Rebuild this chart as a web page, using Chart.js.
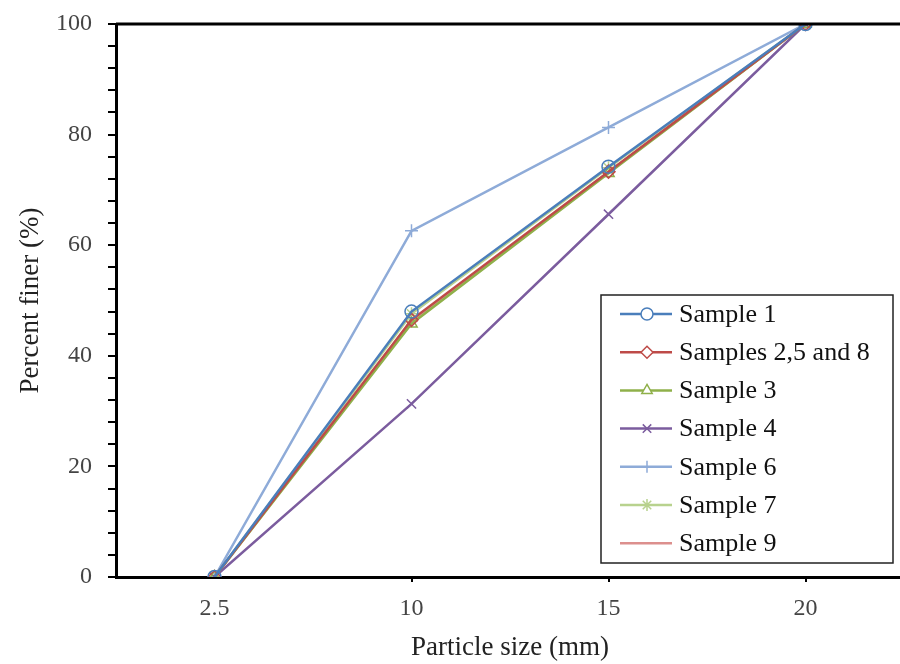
<!DOCTYPE html>
<html>
<head>
<meta charset="utf-8">
<script src="https://cdn.jsdelivr.net/npm/chart.js@4.4.1/dist/chart.umd.min.js"></script>
<style>
  html, body { margin: 0; padding: 0; background: #fff; overflow: hidden; }
  #wrap { width: 900px; height: 664px; overflow: hidden; }
</style>
</head>
<body>
<div id="wrap"><canvas id="sieve" width="912" height="664"></canvas></div>
<script>
// particle sizes (mm) and percent finer per sample
const sizes = ['2.5', '10', '15', '20'];
const sample1 = [0, 48, 74.2, 100];
const samples258 = [0, 46.5, 73.3, 100];
const sample3 = [0, 45.8, 73, 100];
const sample4 = [0, 31.3, 65.6, 100];
const sample6 = [0, 62.6, 81.3, 100];
const sample7 = [0, 47.6, 74, 100];
const sample9 = [0, 46.3, 73.2, 100];

const serif = "'Liberation Serif', 'Times New Roman', serif";

const series = [
  { label: 'Sample 1', data: sample1, color: '#4a7ebb', style: 'circle' },
  { label: 'Samples 2,5 and 8', data: samples258, color: '#be4b48', style: 'rectRot' },
  { label: 'Sample 3', data: sample3, color: '#8fb04a', style: 'triangle' },
  { label: 'Sample 4', data: sample4, color: '#7b5c9e', style: 'crossRot' },
  { label: 'Sample 6', data: sample6, color: '#8eabd8', style: 'cross' },
  { label: 'Sample 7', data: sample7, color: '#b8d28e', style: 'star' },
  { label: 'Sample 9', data: sample9, color: '#dc8f8d', style: 'dash' }
];

// draw top frame line + boxed legend
const framePlugin = {
  id: 'frame',
  afterDraw(chart) {
    const { ctx, chartArea } = chart;
    ctx.save();
    ctx.strokeStyle = '#000';
    ctx.lineWidth = 3;
    ctx.beginPath();
    ctx.moveTo(chartArea.left, chartArea.top);
    ctx.lineTo(chartArea.right, chartArea.top);
    ctx.stroke();

    // legend box
    const bx = 601, by = 295, bw = 292, bh = 268;
    ctx.fillStyle = '#fff';
    ctx.fillRect(bx, by, bw, bh);
    ctx.lineWidth = 1.5;
    ctx.strokeStyle = '#222';
    ctx.strokeRect(bx, by, bw, bh);

    ctx.font = '26px ' + serif;
    ctx.textBaseline = 'middle';
    chart.data.datasets.forEach((ds, i) => {
      const y = 314 + i * 38.2;
      ctx.strokeStyle = ds.borderColor;
      ctx.lineWidth = 2.5;
      ctx.beginPath();
      ctx.moveTo(620, y);
      ctx.lineTo(672, y);
      ctx.stroke();
      ctx.lineWidth = 1.5;
      ctx.fillStyle = '#fff';
      Chart.helpers.drawPoint(ctx, {
        pointStyle: ds.pointStyle, radius: 6, rotation: 0, borderWidth: 1.5
      }, 647, y);
      ctx.fillStyle = '#111';
      ctx.fillText(ds.label, 679, y + 1);
    });
    ctx.restore();
  }
};

new Chart(document.getElementById('sieve'), {
  type: 'line',
  data: {
    labels: sizes,
    datasets: series.map(s => ({
      label: s.label,
      data: s.data,
      borderColor: s.color,
      backgroundColor: 'rgba(0,0,0,0)',
      pointBorderColor: s.color,
      pointBackgroundColor: 'rgba(0,0,0,0)',
      pointStyle: s.style,
      pointRadius: 6.5,
      pointBorderWidth: 1.5,
      borderWidth: 2.5,
      tension: 0
    }))
  },
  options: {
    responsive: false,
    animation: false,
    layout: { padding: { top: 24, right: 4, left: 0, bottom: 0 } },
    plugins: {
      legend: { display: false },
      tooltip: { enabled: false }
    },
    scales: {
      x: {
        offset: true,
        afterFit(scale) { scale.height = 87; },
        border: { color: '#000', width: 3 },
        grid: {
          drawOnChartArea: false,
          tickLength: 5,
          lineWidth: 2,
          color: ctx => ctx.index === 0 ? 'rgba(0,0,0,0)' : '#000'
        },
        ticks: { color: '#444', padding: 12, font: { family: serif, size: 24 } },
        title: {
          display: true,
          text: 'Particle size (mm)',
          color: '#222',
          padding: { top: 0, bottom: 0 },
          font: { family: serif, size: 27 }
        }
      },
      y: {
        min: 0,
        max: 100,
        afterFit(scale) {
          scale.width = 116;
          // let layout padding decide the top edge
          scale.paddingTop = 0;
          scale.paddingBottom = 0;
        },
        border: { color: '#000', width: 3 },
        grid: { drawOnChartArea: false, tickLength: 8, lineWidth: 2, color: '#000' },
        ticks: {
          stepSize: 4,
          autoSkip: false,
          color: '#444',
          padding: 16,
          font: { family: serif, size: 24 },
          callback: v => (v % 20 === 0 ? v : '')
        },
        title: {
          display: true,
          text: 'Percent finer (%)',
          color: '#222',
          padding: { top: 15, bottom: 0 },
          font: { family: serif, size: 27 }
        }
      }
    }
  },
  plugins: [framePlugin]
});
</script>
</body>
</html>
